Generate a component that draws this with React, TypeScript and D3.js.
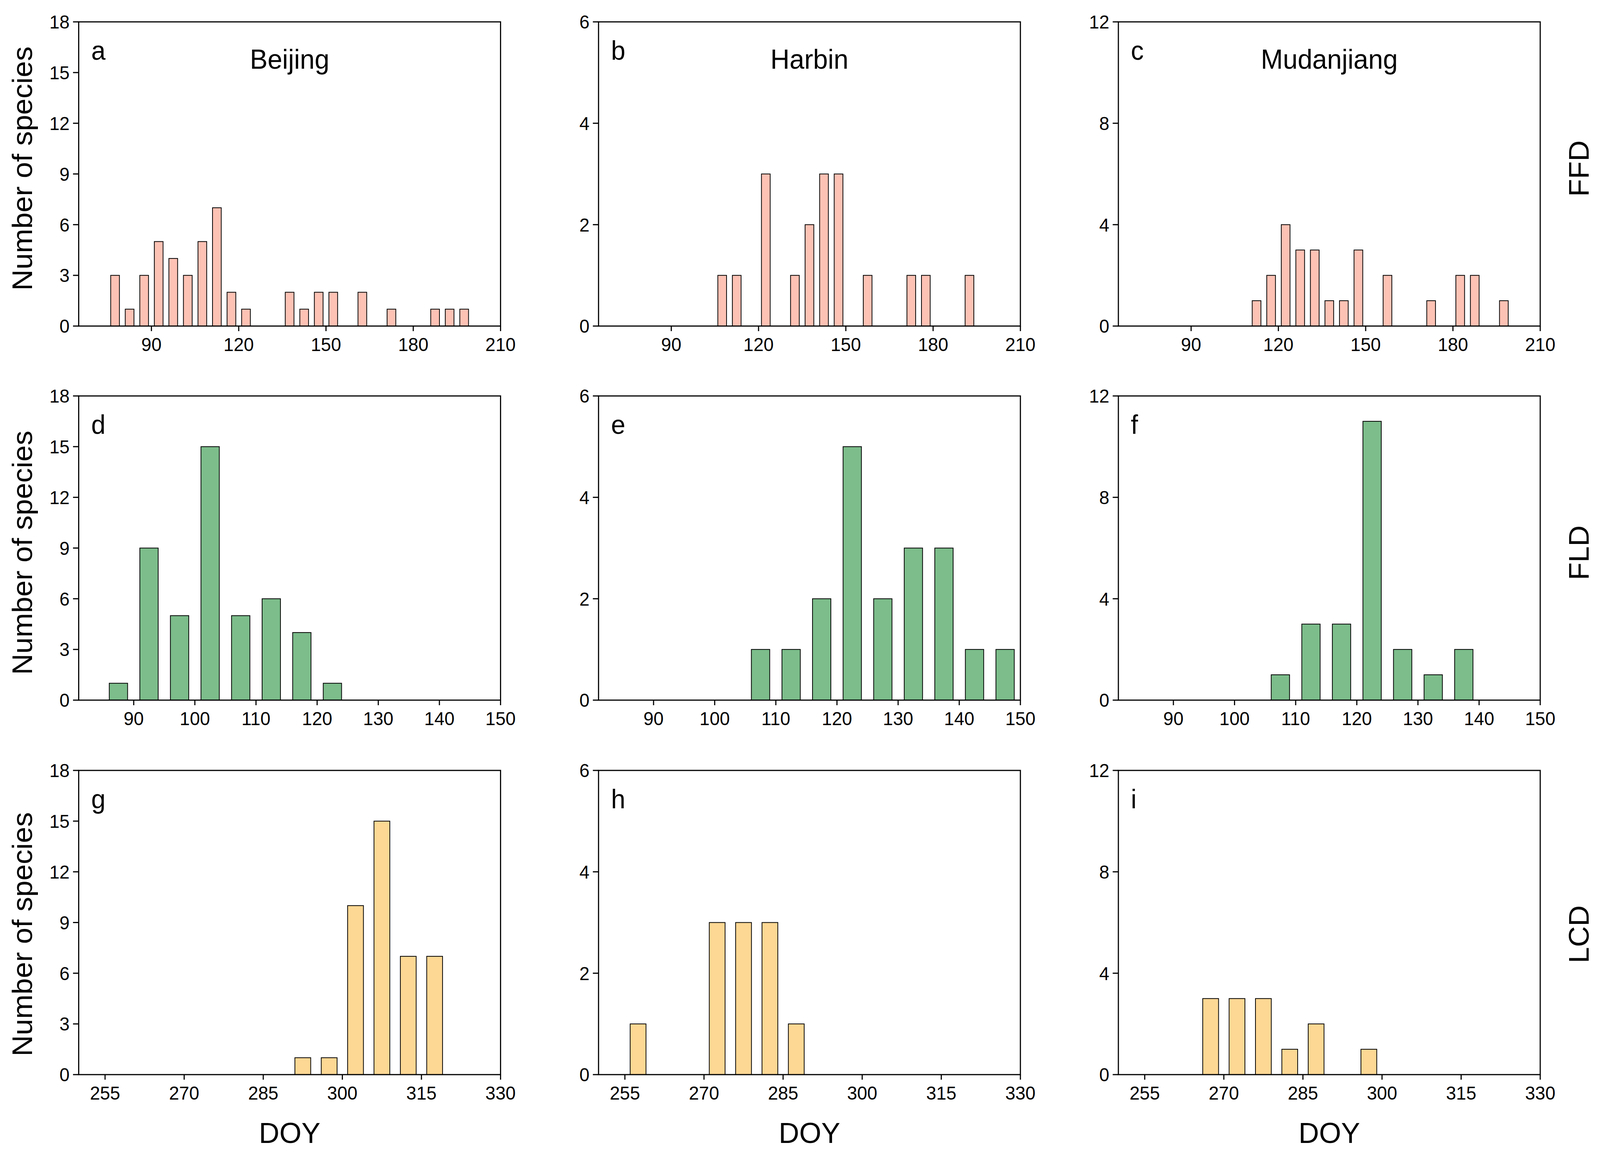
import React, { useEffect } from "react";
import * as d3 from "d3";

// ---- Data (bin centres in DOY, number of species) ----
const ffdBeijingDoy = [77.5, 82.5, 87.5, 92.5, 97.5, 102.5, 107.5, 112.5, 117.5, 122.5, 137.5, 142.5, 147.5, 152.5, 162.5, 172.5, 187.5, 192.5, 197.5];
const ffdBeijingCount = [3, 1, 3, 5, 4, 3, 5, 7, 2, 1, 2, 1, 2, 2, 2, 1, 1, 1, 1];
const ffdHarbinDoy = [107.5, 112.5, 122.5, 132.5, 137.5, 142.5, 147.5, 157.5, 172.5, 177.5, 192.5];
const ffdHarbinCount = [1, 1, 3, 1, 2, 3, 3, 1, 1, 1, 1];
const ffdMudanjiangDoy = [112.5, 117.5, 122.5, 127.5, 132.5, 137.5, 142.5, 147.5, 157.5, 172.5, 182.5, 187.5, 197.5];
const ffdMudanjiangCount = [1, 2, 4, 3, 3, 1, 1, 3, 2, 1, 2, 2, 1];

const fldBeijingDoy = [87.5, 92.5, 97.5, 102.5, 107.5, 112.5, 117.5, 122.5];
const fldBeijingCount = [1, 9, 5, 15, 5, 6, 4, 1];
const fldHarbinDoy = [107.5, 112.5, 117.5, 122.5, 127.5, 132.5, 137.5, 142.5, 147.5];
const fldHarbinCount = [1, 1, 2, 5, 2, 3, 3, 1, 1];
const fldMudanjiangDoy = [107.5, 112.5, 117.5, 122.5, 127.5, 132.5, 137.5];
const fldMudanjiangCount = [1, 3, 3, 11, 2, 1, 2];

const lcdBeijingDoy = [292.5, 297.5, 302.5, 307.5, 312.5, 317.5];
const lcdBeijingCount = [1, 1, 10, 15, 7, 7];
const lcdHarbinDoy = [257.5, 272.5, 277.5, 282.5, 287.5];
const lcdHarbinCount = [1, 3, 3, 3, 1];
const lcdMudanjiangDoy = [267.5, 272.5, 277.5, 282.5, 287.5, 297.5];
const lcdMudanjiangCount = [3, 3, 3, 1, 2, 1];

const sites = ["Beijing", "Harbin", "Mudanjiang"];
const phases = ["FFD", "FLD", "LCD"];
const panelLetters = ["a", "b", "c", "d", "e", "f", "g", "h", "i"];

const xDomains: [number, number][] = [[65, 210], [81, 150], [250, 330]];
const xTicks = [
  [90, 120, 150, 180, 210],
  [90, 100, 110, 120, 130, 140, 150],
  [255, 270, 285, 300, 315, 330],
];
const yMax = [18, 6, 12];
const yTicks = [
  [0, 3, 6, 9, 12, 15, 18],
  [0, 2, 4, 6],
  [0, 4, 8, 12],
];
const binWidth = 3;

const series = [
  [[ffdBeijingDoy, ffdBeijingCount], [ffdHarbinDoy, ffdHarbinCount], [ffdMudanjiangDoy, ffdMudanjiangCount]],
  [[fldBeijingDoy, fldBeijingCount], [fldHarbinDoy, fldHarbinCount], [fldMudanjiangDoy, fldMudanjiangCount]],
  [[lcdBeijingDoy, lcdBeijingCount], [lcdHarbinDoy, lcdHarbinCount], [lcdMudanjiangDoy, lcdMudanjiangCount]],
];

const rowColors = ["#FDC2B4", "#7CBD8B", "#FDD894"];

// ---- Layout ----
const W = 4229;
const H = 2963;
const colLeft = [208, 1582, 2956];
const panelW = 1115;
const rowTop = [56, 1014, 1973];
const panelH = 779;
const labelOffset = [-14, 12, 30];
const FONT = "'Liberation Sans', Arial, sans-serif";

function Panel({ r, c }: { r: number; c: number }) {
  const x0 = colLeft[c];
  const y0 = rowTop[r];
  const x = d3.scaleLinear().domain(xDomains[r]).range([x0, x0 + panelW]);
  const y = d3.scaleLinear().domain([0, yMax[c]]).range([y0 + panelH, y0]);
  const [doys, counts] = series[r][c];
  const bottom = y0 + panelH;
  return (
    <g>
      {doys.map((d, i) => (
        <rect
          key={i}
          x={x(d - binWidth / 2)}
          y={y(counts[i])}
          width={x(d + binWidth / 2) - x(d - binWidth / 2)}
          height={bottom - y(counts[i])}
          fill={rowColors[r]}
          stroke="#000"
          strokeWidth={2}
        />
      ))}
      <rect x={x0} y={y0} width={panelW} height={panelH} fill="none" stroke="#000" strokeWidth={3} />
      {yTicks[c].map((t) => (
        <g key={"y" + t}>
          <line x1={x0 - 15} x2={x0} y1={y(t)} y2={y(t)} stroke="#000" strokeWidth={3} />
          <text x={x0 - 24} y={y(t)} dy="0.36em" textAnchor="end" fontSize={48} fontFamily={FONT}>
            {t}
          </text>
        </g>
      ))}
      {xTicks[r].map((t) => (
        <g key={"x" + t}>
          <line x1={x(t)} x2={x(t)} y1={bottom} y2={bottom + 13} stroke="#000" strokeWidth={3} />
          <text x={x(t)} y={bottom + 64} textAnchor="middle" fontSize={48} fontFamily={FONT}>
            {t}
          </text>
        </g>
      ))}
      <text x={x0 + 33} y={y0 + 97} fontSize={68} fontFamily={FONT}>
        {panelLetters[r * 3 + c]}
      </text>
      {r === 0 && (
        <text x={x0 + panelW / 2} y={y0 + 120} textAnchor="middle" fontSize={70} fontFamily={FONT}>
          {sites[c]}
        </text>
      )}
      {r === 2 && (
        <text x={x0 + panelW / 2} y={2927} textAnchor="middle" fontSize={75} fontFamily={FONT}>
          DOY
        </text>
      )}
      {c === 0 && (
        <text
          transform={`translate(85, ${y0 + panelH / 2 + labelOffset[r]}) rotate(-90)`}
          textAnchor="middle"
          fontSize={75}
          fontFamily={FONT}
        >
          Number of species
        </text>
      )}
      {c === 2 && (
        <text
          transform={`translate(4199, ${y0 + panelH / 2 + labelOffset[r]}) rotate(-90)`}
          textAnchor="middle"
          fontSize={74}
          fontFamily={FONT}
        >
          {phases[r]}
        </text>
      )}
    </g>
  );
}

export default function App() {
  useEffect(() => {
    document.body.style.margin = "0";
    document.documentElement.style.overflow = "hidden";
    document.body.style.overflow = "hidden";
  }, []);
  const cells: [number, number][] = [];
  for (let r = 0; r < 3; r++) for (let c = 0; c < 3; c++) cells.push([r, c]);
  return (
    <svg
      viewBox={`0 0 ${W} ${H}`}
      preserveAspectRatio="none"
      style={{ position: "fixed", left: 0, top: 0, width: "100vw", height: "100vh", background: "#fff", display: "block" }}
    >
      <rect width={W} height={H} fill="#fff" />
      {cells.map(([r, c]) => (
        <Panel key={`${r}-${c}`} r={r} c={c} />
      ))}
    </svg>
  );
}
